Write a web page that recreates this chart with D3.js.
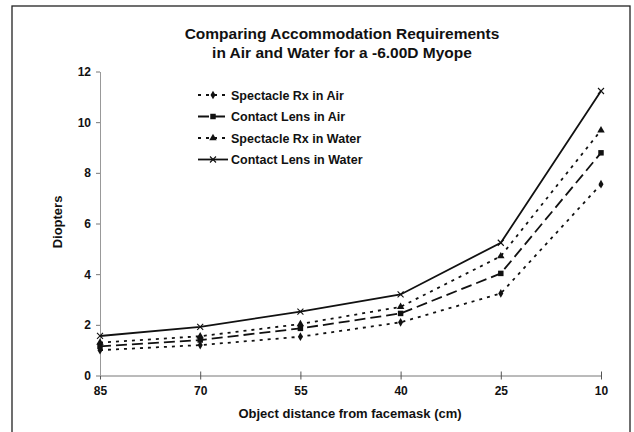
<!DOCTYPE html>
<html>
<head>
<meta charset="utf-8">
<script src="https://cdn.jsdelivr.net/npm/d3@7"></script>
<style>
  body { margin: 0; background: #fff; }
  svg text { font-family: "Liberation Sans", Arial, sans-serif; font-weight: bold; fill: #111; }
</style>
</head>
<body>
<div class="chart"></div>
<script>
let w = 634;
let h = 432;

// object distance categories (cm)
const distances = ["85", "70", "55", "40", "25", "10"];
const yTicks = [0, 2, 4, 6, 8, 10, 12];

const spectacleAir   = [1.00, 1.20, 1.53, 2.10, 3.24, 7.55];
const contactAir     = [1.15, 1.40, 1.86, 2.45, 4.03, 8.79];
const spectacleWater = [1.30, 1.55, 2.03, 2.71, 4.71, 9.68];
const contactWater   = [1.56, 1.92, 2.52, 3.20, 5.24, 11.23];

const seriesNames = ["Spectacle Rx in Air", "Contact Lens in Air", "Spectacle Rx in Water", "Contact Lens in Water"];

const series = [
  {name: seriesNames[0], values: spectacleAir, dash: "3,5", symbol: d3.symbolDiamond, size: 22},
  {name: seriesNames[1], values: contactAir, dash: "11,5", symbol: d3.symbolSquare, size: 30},
  {name: seriesNames[2], values: spectacleWater, dash: "3,5", symbol: d3.symbolTriangle, size: 24},
  {name: seriesNames[3], values: contactWater, dash: null, symbol: "x", size: 0}
];

const svg = d3.select('.chart')
  .append("svg")
  .attr("width", w)
  .attr("height", h);

// outer frame
svg.append("rect")
  .attr("x", 12).attr("y", 6)
  .attr("width", 618).attr("height", 430)
  .attr("fill", "none")
  .attr("stroke", "#222")
  .attr("stroke-width", 1.3);

const xScale = d3.scalePoint()
  .domain(distances)
  .range([100, 601]);

const yScale = d3.scaleLinear()
  .domain([0, 12])
  .range([375.5, 71.5]);

// axes
const xAxis = d3.axisBottom(xScale).tickSize(0).tickPadding(11);
const gx = svg.append("g")
  .attr("transform", "translate(0,375.5)")
  .call(xAxis);
gx.select(".domain").attr("stroke", "#777");
gx.selectAll(".tick line").remove();
gx.selectAll(".tick").append("line")
  .attr("y1", -4).attr("y2", 4)
  .attr("stroke", "#555");
gx.selectAll("text").style("font-size", "12px");

const yAxis = d3.axisLeft(yScale).tickValues(yTicks).tickSize(4).tickSizeOuter(0).tickPadding(5);
const gy = svg.append("g")
  .attr("transform", "translate(100,0)")
  .call(yAxis);
gy.select(".domain").attr("stroke", "#999");
gy.selectAll(".tick line").attr("stroke", "#777");
gy.selectAll("text").style("font-size", "12px");

// lines
const line = d3.line()
  .x((d, i) => xScale(distances[i]))
  .y(d => yScale(d));

series.forEach(s => {
  svg.append("path")
    .datum(s.values)
    .attr("d", line)
    .attr("fill", "none")
    .attr("stroke", "#111")
    .attr("stroke-width", 1.8)
    .attr("stroke-dasharray", s.dash);

  drawMarkers(svg, s, s.values.map((v, i) => [xScale(distances[i]), yScale(v)]));
});

function drawMarkers(g, s, pts) {
  pts.forEach(p => {
    if (s.symbol === "x") {
      g.append("path")
        .attr("d", "M-3,-3L3,3M-3,3L3,-3")
        .attr("transform", "translate(" + p[0] + "," + p[1] + ")")
        .attr("stroke", "#111")
        .attr("stroke-width", 1.1);
    } else {
      g.append("path")
        .attr("d", d3.symbol().type(s.symbol).size(s.size)())
        .attr("transform", "translate(" + p[0] + "," + p[1] + ")")
        .attr("fill", "#111");
    }
  });
}

// legend
const legend = svg.append("g");
series.forEach((s, i) => {
  let y = 95 + i * 21.5;
  legend.append("line")
    .attr("x1", 198).attr("x2", 228)
    .attr("y1", y).attr("y2", y)
    .attr("stroke", "#111")
    .attr("stroke-width", 1.8)
    .attr("stroke-dasharray", s.dash);
  drawMarkers(legend, s, [[213, y]]);
  legend.append("text")
    .attr("x", 231).attr("y", y + 4.5)
    .style("font-size", "12.5px")
    .text(s.name);
});

// titles
svg.append("text")
  .attr("x", 342).attr("y", 39)
  .attr("text-anchor", "middle")
  .style("font-size", "15.5px")
  .text("Comparing Accommodation Requirements");
svg.append("text")
  .attr("x", 342).attr("y", 58)
  .attr("text-anchor", "middle")
  .style("font-size", "15.5px")
  .text("in Air and Water for a -6.00D Myope");

svg.append("text")
  .attr("x", 350).attr("y", 418)
  .attr("text-anchor", "middle")
  .style("font-size", "13px")
  .text("Object distance from facemask (cm)");

svg.append("text")
  .attr("transform", "translate(62,222) rotate(-90)")
  .attr("text-anchor", "middle")
  .style("font-size", "13px")
  .text("Diopters");
</script>
</body>
</html>
